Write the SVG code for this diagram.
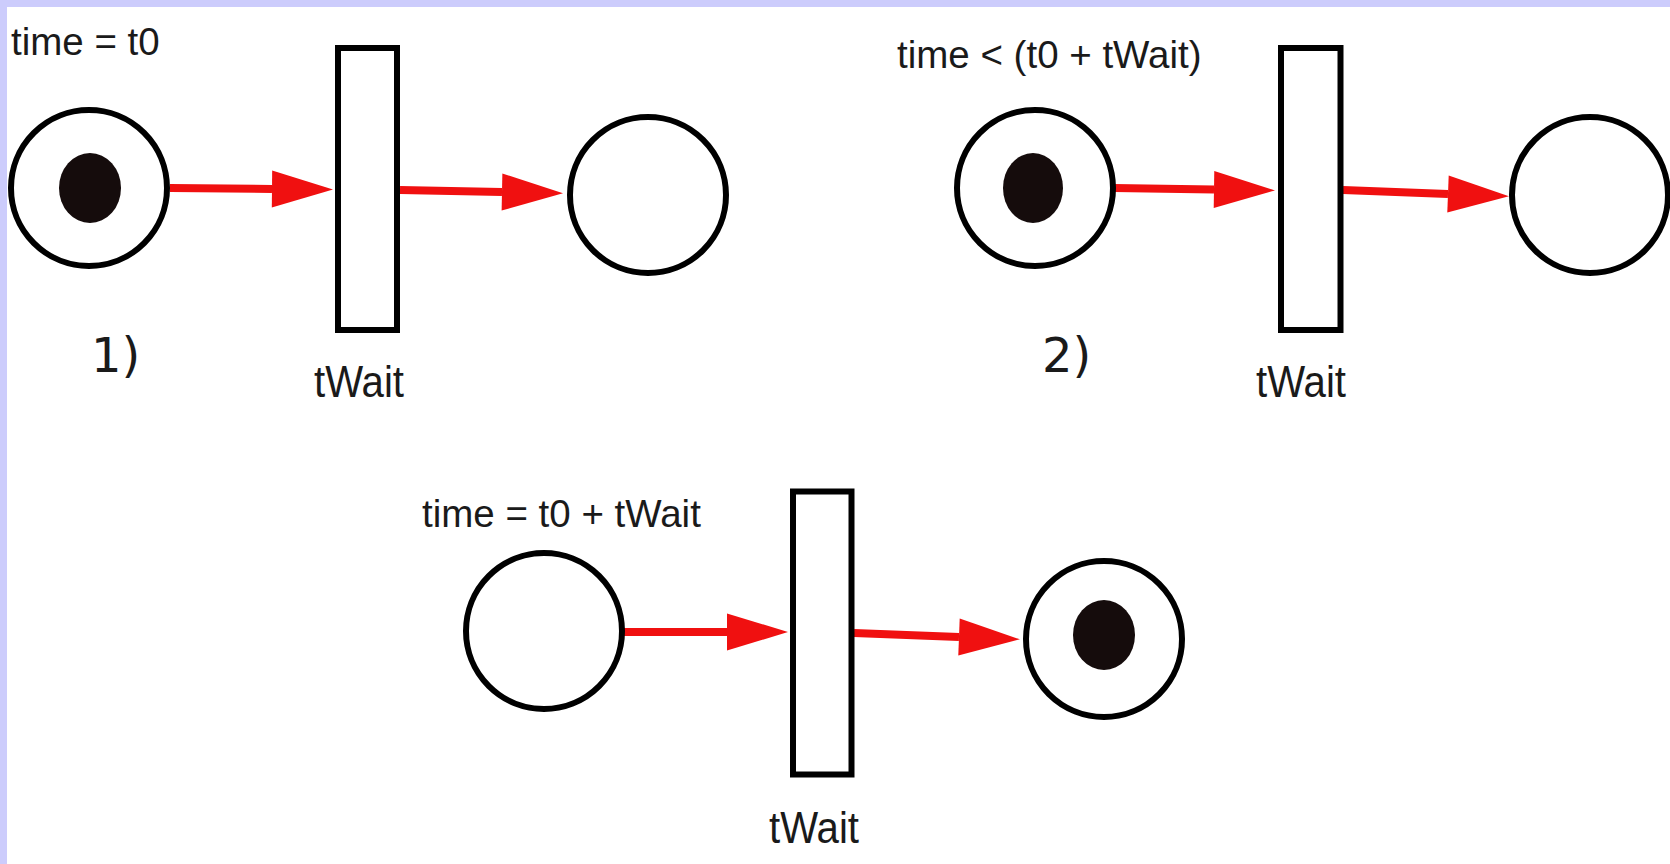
<svg xmlns="http://www.w3.org/2000/svg" width="1670" height="864" viewBox="0 0 1670 864">
<style>
.place{fill:#ffffff;stroke:#000000;stroke-width:6}
.token{fill:#150c0c;stroke:none}
.trans{fill:#ffffff;stroke:#000000;stroke-width:6}
.arc{fill:none;stroke:#f01010;stroke-width:8}
.lbl{font-family:"Liberation Sans",Arial,sans-serif;font-size:38.5px;fill:#1a1a1a}
.tw{font-family:"Liberation Sans",Arial,sans-serif;font-size:44px;fill:#1a1a1a}
.num{font-family:"DejaVu Sans",sans-serif;font-size:48px;fill:#1a1a1a}
</style>
<defs>
<marker id="ah" markerUnits="userSpaceOnUse" markerWidth="66" markerHeight="40" viewBox="0 -20 66 40" refX="0" refY="0" orient="auto" overflow="visible">
<path d="M0,-18.5 L61,0 L0,18.5 Z" fill="#f01010"/>
</marker>
</defs>
<rect x="0" y="0" width="1670" height="864" fill="#ffffff"/>
<rect x="0" y="0" width="1670" height="7" fill="#ccccfc"/>
<rect x="0" y="0" width="7" height="864" fill="#ccccfc"/>

<g id="connectors">
<path class="arc" d="M170,188 L272,189" marker-end="url(#ah)"/>
<path class="arc" d="M400,190 L502,192" marker-end="url(#ah)"/>
<path class="arc" d="M1114,188 L1214,189.5" marker-end="url(#ah)"/>
<path class="arc" d="M1343,190 L1448,194" marker-end="url(#ah)"/>
<path class="arc" d="M624,632 L727,632" marker-end="url(#ah)"/>
<path class="arc" d="M854,633 L959,637" marker-end="url(#ah)"/>
</g>

<g id="label-1">
<text class="lbl" x="11" y="55">time = t0</text>
<text class="num" x="91" y="372">1)</text>
</g>
<g id="place-1a">
<circle class="place" cx="89" cy="188" r="78"/>
<ellipse class="token" cx="90" cy="188" rx="31" ry="35"/>
</g>
<g id="trans-1">
<rect class="trans" x="338" y="48" width="59" height="282"/>
<text class="tw" x="314" y="397" textLength="90" lengthAdjust="spacingAndGlyphs">tWait</text>
</g>
<g id="place-1b">
<circle class="place" cx="648" cy="195" r="78"/>
</g>

<g id="label-2">
<text class="lbl" x="897" y="68">time &lt; (t0 + tWait)</text>
<text class="num" x="1042" y="372">2)</text>
</g>
<g id="place-2a">
<circle class="place" cx="1035" cy="188" r="78"/>
<ellipse class="token" cx="1033" cy="188" rx="30" ry="35"/>
</g>
<g id="trans-2">
<rect class="trans" x="1281" y="48" width="59.5" height="282"/>
<text class="tw" x="1256" y="397" textLength="90" lengthAdjust="spacingAndGlyphs">tWait</text>
</g>
<g id="place-2b">
<circle class="place" cx="1590" cy="195" r="78"/>
</g>

<g id="label-3">
<text class="lbl" x="422" y="527">time = t0 + tWait</text>
</g>
<g id="place-3a">
<circle class="place" cx="544" cy="631" r="78"/>
</g>
<g id="trans-3">
<rect class="trans" x="793" y="491.5" width="58.5" height="283"/>
<text class="tw" x="769" y="843" textLength="90" lengthAdjust="spacingAndGlyphs">tWait</text>
</g>
<g id="place-3b">
<circle class="place" cx="1104" cy="639" r="78"/>
<ellipse class="token" cx="1104" cy="635" rx="31" ry="35"/>
</g>
</svg>
